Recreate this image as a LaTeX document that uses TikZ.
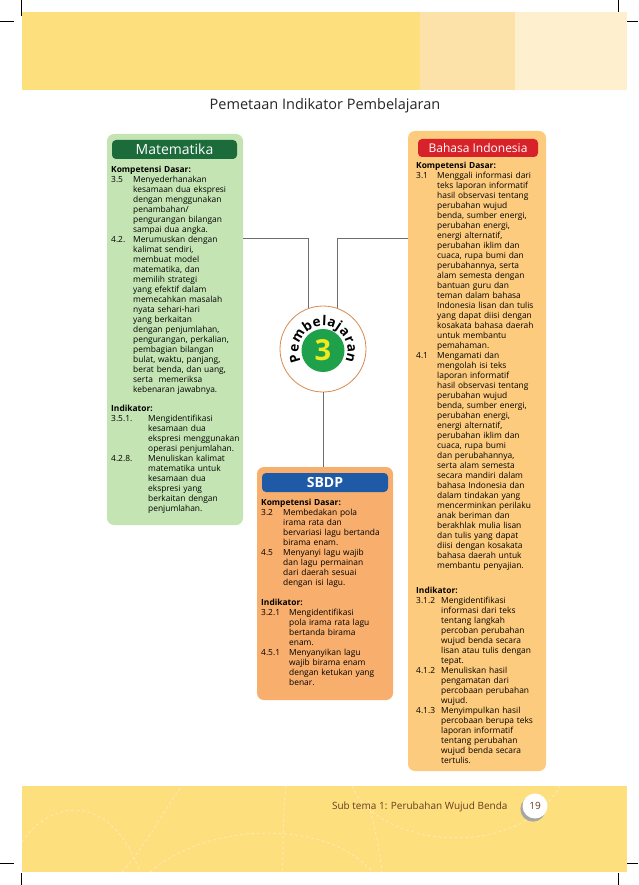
\documentclass[tikz,border=0pt]{standalone}
\usepackage{fontspec}
\setmainfont{Open Sans}
\usetikzlibrary{decorations.text}

\definecolor{bandyellow}{HTML}{FDDF7E}
\definecolor{bandmid}{HTML}{FCE2A8}
\definecolor{bandlight}{HTML}{FEF0CE}
\definecolor{dashyellow}{HTML}{FEEAB0}
\definecolor{matfill}{HTML}{C5E4B4}
\definecolor{matdark}{HTML}{1C6B3B}
\definecolor{bifill}{HTML}{FDCB7D}
\definecolor{bired}{HTML}{D8222A}
\definecolor{sbfill}{HTML}{F8AE6C}
\definecolor{sbblue}{HTML}{1F5AA6}
\definecolor{ringorange}{HTML}{D98A4E}
\definecolor{numgreen}{HTML}{1EA14A}
\definecolor{numyellow}{HTML}{F1EB1E}
\definecolor{linkgray}{HTML}{6E6E6E}
\definecolor{titlegray}{HTML}{262626}
\definecolor{footbrown}{HTML}{6B3A20}

\setlength\parindent{0pt}
% item with hanging number
\newcommand\butir[2]{\par\let\\\newline\hangindent=#1\hangafter=1\noindent\makebox[#1][l]{#2}}
\newcommand\pbfont{\fontsize{13.5}{13.5}\selectfont\bfseries}

\begin{document}
\begin{tikzpicture}[x=1pt, y=-1pt,
    panel/.style={rounded corners=7pt, inner sep=0pt, minimum width=136pt},
    heading/.style={rounded corners=4pt, inner sep=0pt, text=white, minimum height=19pt},
    isi/.style={anchor=north west, inner sep=0pt, text width=140pt,
      font=\fontsize{8.4}{10}\selectfont},
    link/.style={draw=linkgray, line width=0.8pt}]
    \useasboundingbox[fill=white] (0,0) rectangle (638,885);

    % Crop marks
    \draw[line width=0.5pt] (21,0) -- (21,16) (0,21) -- (14,21);
    \draw[line width=0.5pt] (618,0) -- (618,16) (624,21) -- (638,21);
    \draw[line width=0.5pt] (21,873) -- (21,885) (0,863) -- (14,863);
    \draw[line width=0.5pt] (618,873) -- (618,885) (624,863) -- (638,863);

    % Top band
    \fill[bandyellow] (22,12) rectangle (420,90);
    \fill[bandmid] (420,12) rectangle (515,90);
    \fill[bandlight] (515,12) rectangle (627,90);

    % Title
    \node[font=\fontsize{14.5}{14.5}\selectfont, text=titlegray] (judul) at (325,106)
      {Pemetaan Indikator Pembelajaran};

    % Matematika
    \node[panel, fill=matfill, minimum height=391pt] (mat) at (175,329.5) {};
    \node[heading, fill=matdark, minimum width=125pt, font=\fontsize{14}{14}\selectfont]
      (matjudul) at (174.5,149.5) {Matematika};
    \node[isi] (matisi) at (111,166) {%
      {\bfseries Kompetensi Dasar:}
      \butir{22pt}{3.5}Menyederhanakan\\ kesamaan dua ekspresi\\ dengan menggunakan\\
        penambahan/\\ pengurangan bilangan\\ sampai dua angka.
      \butir{22pt}{4.2.}Merumuskan dengan\\ kalimat sendiri,\\ membuat model\\
        matematika, dan\\ memilih strategi\\ yang efektif dalam\\ memecahkan masalah\\
        nyata sehari-hari\\ yang berkaitan\\ dengan penjumlahan,\\ pengurangan, perkalian,\\
        pembagian bilangan\\ bulat, waktu, panjang,\\ berat benda, dan uang,\\
        serta\ \ memeriksa\\ kebenaran jawabnya.
      \par\vspace{9pt}
      {\bfseries Indikator:}
      \butir{37pt}{3.5.1.}Mengidentifikasi\\ kesamaan dua\\ ekspresi menggunakan\\
        operasi penjumlahan.
      \butir{37pt}{4.2.8.}Menuliskan kalimat\\ matematika untuk\\ kesamaan dua\\
        ekspresi yang\\ berkaitan dengan\\ penjumlahan.\par};

    % Bahasa Indonesia
    \node[panel, fill=bifill, minimum width=138pt, minimum height=640pt] (bi) at (477,451) {};
    \node[heading, fill=bired, minimum width=120pt, minimum height=18pt,
      font=\fontsize{12}{12}\selectfont] (bijudul) at (478,148) {Bahasa Indonesia};
    \node[isi] (biisi) at (416,162) {%
      {\bfseries Kompetensi Dasar:}
      \butir{21pt}{3.1}Menggali informasi dari\\ teks laporan informatif\\
        hasil observasi tentang\\ perubahan wujud\\ benda, sumber energi,\\
        perubahan energi,\\ energi alternatif,\\ perubahan iklim dan\\
        cuaca, rupa bumi dan\\ perubahannya, serta\\ alam semesta dengan\\
        bantuan guru dan\\ teman dalam bahasa\\ Indonesia lisan dan tulis\\
        yang dapat diisi dengan\\ kosakata bahasa daerah\\ untuk membantu\\ pemahaman.
      \butir{21pt}{4.1}Mengamati dan\\ mengolah isi teks\\ laporan informatif\\
        hasil observasi tentang\\ perubahan wujud\\ benda, sumber energi,\\
        perubahan energi,\\ energi alternatif,\\ perubahan iklim dan\\
        cuaca, rupa bumi\\ dan perubahannya,\\ serta alam semesta\\
        secara mandiri dalam\\ bahasa Indonesia dan\\ dalam tindakan yang\\
        mencerminkan perilaku\\ anak beriman dan\\ berakhlak mulia lisan\\
        dan tulis yang dapat\\ diisi dengan kosakata\\ bahasa daerah untuk\\
        membantu penyajian.
      \par\vspace{15pt}
      {\bfseries Indikator:}
      \butir{25pt}{3.1.2}Mengidentifikasi\\ informasi dari teks\\ tentang langkah\\
        percoban perubahan\\ wujud benda secara\\ lisan atau tulis dengan\\ tepat.
      \butir{25pt}{4.1.2}Menuliskan hasil\\ pengamatan dari\\ percobaan perubahan\\ wujud.
      \butir{25pt}{4.1.3}Menyimpulkan hasil\\ percobaan berupa teks\\ laporan informatif\\
        tentang perubahan\\ wujud benda secara\\ tertulis.\par};

    % SBDP
    \node[panel, fill=sbfill, minimum height=233pt] (sb) at (325,583.5) {};
    \node[heading, fill=sbblue, minimum width=126pt, font=\fontsize{14}{14}\selectfont\bfseries]
      (sbjudul) at (325,482.5) {SBDP};
    \node[isi] (sbisi) at (261,499) {%
      {\bfseries Kompetensi Dasar:}
      \butir{22pt}{3.2}Membedakan pola\\ irama rata dan\\ bervariasi lagu bertanda\\ birama enam.
      \butir{22pt}{4.5}Menyanyi lagu wajib\\ dan lagu permainan\\ dari daerah sesuai\\ dengan isi lagu.
      \par\vspace{10pt}
      {\bfseries Indikator:}
      \butir{28pt}{3.2.1}Mengidentifikasi\\ pola irama rata lagu\\ bertanda birama\\ enam.
      \butir{28pt}{4.5.1}Menyanyikan lagu\\ wajib birama enam\\ dengan ketukan yang\\ benar.\par};

    % Pembelajaran 3
    \node[circle, fill=white, draw=ringorange, line width=0.8pt, minimum size=86pt,
      inner sep=0pt] (pb) at (323,349) {};
    \node[circle, fill=numgreen, minimum size=43pt, inner sep=0pt, text=numyellow,
      font=\fontsize{29}{29}\selectfont\bfseries] (nomor) at ([yshift=-1.5pt]pb.center) {3};
    \path[decorate, decoration={text along path, text align=fit to path,
      text={|\pbfont|Pembelajaran}}]
      (nomor.center) ++(-206:24.5) arc[start angle=-206, end angle=26, radius=24.5];

    % Connectors
    \coordinate (jalur) at (0,238);
    \draw[link] (mat.east |- jalur) -| (pb.109);
    \draw[link] (bi.west |- jalur) -| (pb.71);
    \draw[link] (pb.south) -- (pb.south |- sb.north);

    % Footer band
    \fill[bandyellow] (22,786) rectangle (627,872);
    \begin{scope}
      \clip (22,786) rectangle (627,872);
      \draw[dashyellow, line width=0.9pt, dash pattern=on 3pt off 2.5pt]
        (22,842) .. controls (50,800) and (110,790) .. (140,872)
        (122,872) .. controls (150,840) and (170,800) .. (182,786)
        (150,872) .. controls (210,820) and (330,820) .. (372,872)
        (286,786) .. controls (282,820) and (284,850) .. (282,872)
        (352,786) .. controls (380,850) and (520,860) .. (560,786)
        (368,800) .. controls (375,830) and (380,850) .. (382,872);
    \end{scope}
    \node[anchor=east, text=footbrown, font=\fontsize{10}{10}\selectfont] (subtema)
      at (511,807) {Sub tema 1: Perubahan Wujud Benda};
    \fill[black!35] (533,809) circle (12.6);
    \node[circle, fill=white, minimum size=25pt, inner sep=0pt, text=footbrown,
      font=\fontsize{10}{10}\selectfont] (hal) at (535,806) {19};
\end{tikzpicture}
\end{document}
